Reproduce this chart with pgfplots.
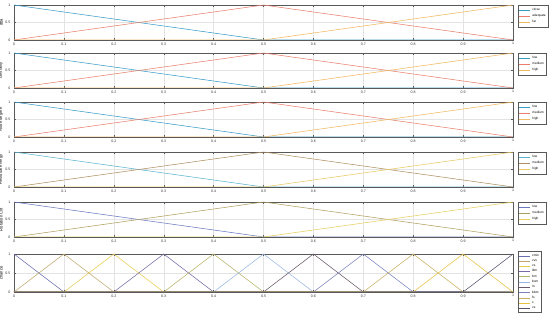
\documentclass[border=0pt]{standalone}
\usepackage{pgfplots}
\pgfplotsset{compat=1.18}
\usepackage{fontspec}
\setmainfont{Liberation Sans}
\definecolor{cA}{HTML}{3A9BC8}
\definecolor{cB}{HTML}{E8806A}
\definecolor{cC}{HTML}{F0B860}
\definecolor{dA}{HTML}{5AB4D0}
\definecolor{dB}{HTML}{B09060}
\definecolor{dC}{HTML}{E8C860}
\definecolor{eA}{HTML}{6A7AC0}
\definecolor{eB}{HTML}{B0A060}
\definecolor{eC}{HTML}{E8D060}
\definecolor{k0}{HTML}{6A6FB0}
\definecolor{k1}{HTML}{C0A870}
\definecolor{k2}{HTML}{E6CC50}
\definecolor{k3}{HTML}{7A6AA8}
\definecolor{k4}{HTML}{B8B468}
\definecolor{k5}{HTML}{9AB8E0}
\definecolor{k6}{HTML}{6A5A6A}
\definecolor{k7}{HTML}{7A82C0}
\definecolor{k8}{HTML}{C8B060}
\definecolor{k9}{HTML}{E8C040}
\definecolor{k10}{HTML}{5A5070}
\pgfplotsset{
  mf/.style={
    scale only axis, width=499bp, height=35bp, anchor=north west,
    xmin=0, xmax=1, ymin=0, ymax=1,
    xtick={0,0.1,...,1}, ytick={0,0.5,1},
    xticklabels={0,0.1,0.2,0.3,0.4,0.5,0.6,0.7,0.8,0.9,1},
    yticklabels={0,0.5,1},
    tick align=inside, major tick length=2bp,
    grid=major, major grid style={gray!22, line width=0.3pt},
    axis line style={gray!70!black, line width=0.4pt},
    tick style={gray!70!black, line width=0.3pt},
    ticklabel style={font=\fontsize{3.6}{4}\selectfont, text=black!80},
    xticklabel style={yshift=1bp},
    ylabel style={font=\fontsize{4.2}{5}\selectfont, yshift=-4bp},
    legend style={at={(1.01,1)}, anchor=north west, font=\fontsize{3.2}{3.6}\selectfont,
      draw=gray!70!black, line width=0.3pt, inner sep=0.8bp, row sep=-1.6bp,
      cells={anchor=west}},
    legend image code/.code={\draw[#1, line width=0.5pt] (0bp,0bp) -- (11bp,0bp);},
    every axis plot/.append style={line width=0.55pt},
  }
}
\begin{document}
\begin{tikzpicture}
\useasboundingbox (0,0) rectangle (550bp,313bp);
% 1 dba
\begin{axis}[mf, at={(14bp,308bp)}, ylabel={dba}]
\addplot[cA] coordinates {(0,1) (0.5,0) (1,0)};
\addplot[cB] coordinates {(0,0) (0.5,1) (1,0)};
\addplot[cC] coordinates {(0,0) (0.5,0) (1,1)};
\legend{close,adequate,far}
\end{axis}
% 2 centrality
\begin{axis}[mf, at={(14bp,260bp)}, ylabel={centrality}]
\addplot[cA] coordinates {(0,1) (0.5,0) (1,0)};
\addplot[cB] coordinates {(0,0) (0.5,1) (1,0)};
\addplot[cC] coordinates {(0,0) (0.5,0) (1,1)};
\legend{low,medium,high}
\end{axis}
% 3 Node degree
\begin{axis}[mf, at={(14bp,211bp)}, ylabel={Node degree}]
\addplot[cA] coordinates {(0,1) (0.5,0) (1,0)};
\addplot[cB] coordinates {(0,0) (0.5,1) (1,0)};
\addplot[cC] coordinates {(0,0) (0.5,0) (1,1)};
\legend{low,medium,high}
\end{axis}
% 4 Residual energy
\begin{axis}[mf, at={(14bp,161bp)}, ylabel={Residual energy}]
\addplot[dA] coordinates {(0,1) (0.5,0) (1,0)};
\addplot[dB] coordinates {(0,0) (0.5,1) (1,0)};
\addplot[dC] coordinates {(0,0) (0.5,0) (1,1)};
\legend{low,medium,high}
\end{axis}
% 5 Rotation Cnt
\begin{axis}[mf, at={(14bp,111bp)}, ylabel={Rotation Cnt}]
\addplot[eA] coordinates {(0,1) (0.5,0) (1,0)};
\addplot[eB] coordinates {(0,0) (0.5,1) (1,0)};
\addplot[eC] coordinates {(0,0) (0.5,0) (1,1)};
\legend{low,medium,high}
\end{axis}
% 6 chance
\begin{axis}[mf, at={(14bp,59bp)}, height=38bp, ylabel={chance},
  legend style={at={(1.01,1.07)}, row sep=-2.3bp, inner sep=0.6bp}]
\addplot[k0] coordinates {(0,1) (0.1,0) (1,0)};
\addplot[k1] coordinates {(0,0) (0.1,1) (0.2,0) (1,0)};
\addplot[k2] coordinates {(0,0) (0.1,0) (0.2,1) (0.3,0) (1,0)};
\addplot[k3] coordinates {(0,0) (0.2,0) (0.3,1) (0.4,0) (1,0)};
\addplot[k4] coordinates {(0,0) (0.3,0) (0.4,1) (0.5,0) (1,0)};
\addplot[k5] coordinates {(0,0) (0.4,0) (0.5,1) (0.6,0) (1,0)};
\addplot[k6] coordinates {(0,0) (0.5,0) (0.6,1) (0.7,0) (1,0)};
\addplot[k7] coordinates {(0,0) (0.6,0) (0.7,1) (0.8,0) (1,0)};
\addplot[k8] coordinates {(0,0) (0.7,0) (0.8,1) (0.9,0) (1,0)};
\addplot[k9] coordinates {(0,0) (0.8,0) (0.9,1) (1,0)};
\addplot[k10] coordinates {(0,0) (0.9,0) (1,1)};
\legend{vmin,vvs,vs,lbm,bm,bsm,m,bbm,fs,s,vs}
\end{axis}
\end{tikzpicture}
\end{document}
